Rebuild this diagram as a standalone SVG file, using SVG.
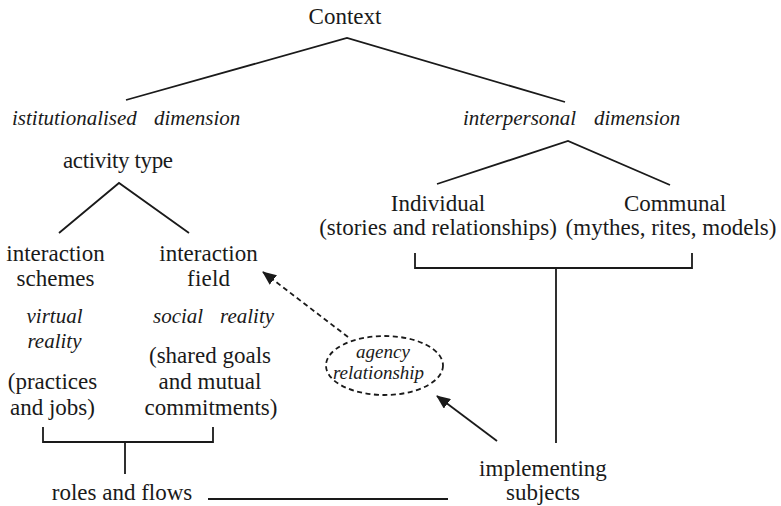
<svg xmlns="http://www.w3.org/2000/svg" width="781" height="506" viewBox="0 0 781 506">
  <style>
    text { fill: #1a1a1a; }
    .t { font-size: 23px; text-anchor: middle; }
    .i { font-size: 21px; font-style: italic; }
    .ie { font-size: 19px; font-style: italic; text-anchor: middle; }
    .ln { fill: none; stroke: #1a1a1a; stroke-width: 1.8; }
    .dash { stroke-dasharray: 5 3.5; }
  </style>
  <defs>
    <marker id="head" markerUnits="userSpaceOnUse" markerWidth="14" markerHeight="12" refX="13" refY="6" orient="auto">
      <path d="M0,0 L14,6 L0,12 Z" fill="#1a1a1a"/>
    </marker>
  </defs>
  <rect width="781" height="506" fill="#ffffff"/>

  <!-- connectors -->
  <g id="connectors">
    <polyline class="ln" points="126,100 347,38 565,102"/>
    <polyline class="ln" points="437,184 568,141 670,185"/>
    <polyline class="ln" points="59,233 119,183 189,233"/>
    <path class="ln" d="M43,427 V442 H213 V427 M125,442 V474"/>
    <path class="ln" d="M415,253 V268 H692 V253 M556,268 V443"/>
    <path class="ln" d="M208,499 H448"/>
    <line class="ln dash" x1="348" y1="337" x2="263" y2="272" marker-end="url(#head)"/>
    <line class="ln" x1="497" y1="441" x2="437" y2="396" marker-end="url(#head)"/>
  </g>

  <g font-family="Liberation Serif, Tinos, Times New Roman, Noto Serif, DejaVu Serif, serif">
  <g id="context">
    <text class="t" x="345" y="24">Context</text>
  </g>

  <g id="institutional">
    <text class="i"><tspan x="12" y="125">istitutionalised</tspan><tspan x="154" y="125">dimension</tspan></text>
  </g>

  <g id="interpersonal">
    <text class="i"><tspan x="463" y="125">interpersonal</tspan><tspan x="594" y="125">dimension</tspan></text>
  </g>

  <g id="activity-type">
    <text class="t" x="118" y="168" textLength="110" lengthAdjust="spacing">activity type</text>
  </g>

  <g id="interaction-schemes">
    <text class="t" x="55.5" y="261">interaction</text>
    <text class="t" x="55.5" y="286">schemes</text>
    <text class="i" x="54.5" y="323" text-anchor="middle">virtual</text>
    <text class="i" x="54.5" y="348" text-anchor="middle">reality</text>
    <text class="t" x="52.5" y="389">(practices</text>
    <text class="t" x="52.5" y="415">and jobs)</text>
  </g>

  <g id="interaction-field">
    <text class="t" x="208.5" y="261">interaction</text>
    <text class="t" x="208.5" y="286" textLength="43" lengthAdjust="spacing">field</text>
    <text class="i"><tspan x="153" y="323">social</tspan><tspan x="220" y="323">reality</tspan></text>
    <text class="t" x="210" y="363">(shared goals</text>
    <text class="t" x="210" y="389">and mutual</text>
    <text class="t" x="211" y="415">commitments)</text>
  </g>

  <g id="individual">
    <text class="t" x="438" y="211">Individual</text>
    <text class="t" x="438" y="235">(stories and relationships)</text>
  </g>

  <g id="communal">
    <text class="t" x="675" y="211">Communal</text>
    <text class="t" x="671" y="235">(mythes, rites, models)</text>
  </g>

  <g id="agency-relationship">
    <ellipse class="ln dash" cx="384.5" cy="365.5" rx="58.5" ry="29.5"/>
    <text class="ie" x="383" y="358">agency</text>
    <text class="ie" x="378.5" y="379">relationship</text>
  </g>

  <g id="implementing-subjects">
    <text class="t" x="543" y="476">implementing</text>
    <text class="t" x="543" y="500">subjects</text>
  </g>

  <g id="roles-and-flows">
    <text class="t" x="122" y="500">roles and flows</text>
  </g>
  </g>
</svg>
